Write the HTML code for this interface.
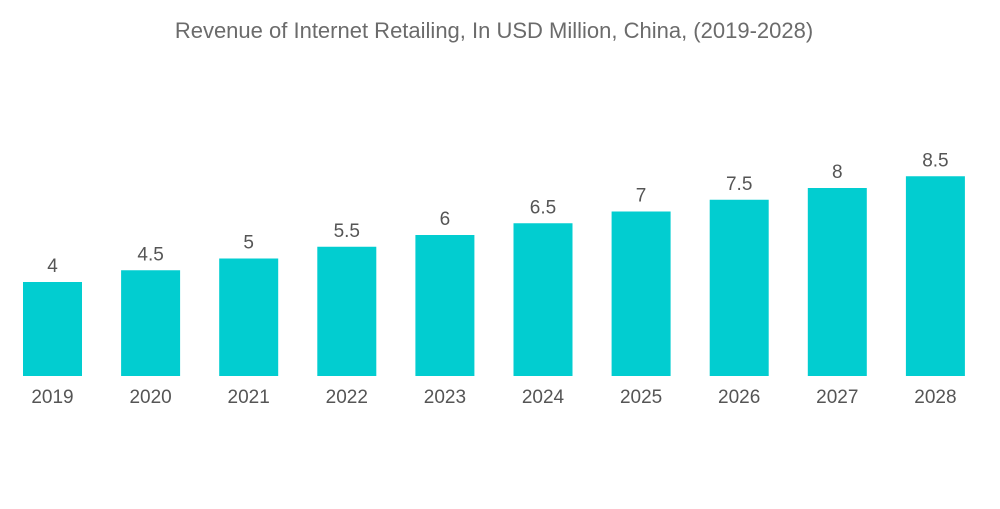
<!DOCTYPE html>
<html><head><meta charset="utf-8"><style>
body{margin:0;background:#fff;width:1000px;height:504px;overflow:hidden;font-family:"Liberation Sans",sans-serif}
</style></head><body>
<svg width="1000" height="504">
<text x="494" y="38" text-anchor="middle" font-size="22" fill="#6b6b6b">Revenue of Internet Retailing, In USD Million, China, (2019-2028)</text>
<g id="bars"></g>
</svg>
<script>
const categories=["2019","2020","2021","2022","2023","2024","2025","2026","2027","2028"];
const values=[4,4.5,5,5.5,6,6.5,7,7.5,8,8.5];
const labels=["4","4.5","5","5.5","6","6.5","7","7.5","8","8.5"];
const base=376, unit=23.5, x0=23, step=98.1, bw=59;
const y=v=>base-v*unit, x=i=>x0+i*step;
const g=document.getElementById('bars');const ns="http://www.w3.org/2000/svg";
categories.forEach((c,i)=>{
 const r=document.createElementNS(ns,'rect');
 
 
 r.setAttribute('x',x(i));r.setAttribute('y',y(values[i]));r.setAttribute('width',bw);r.setAttribute('height',base-y(values[i]));r.setAttribute('fill','#02cdd0');g.appendChild(r);
 const t=document.createElementNS(ns,'text');
 
 
 t.setAttribute('x',x(i)+bw/2);t.setAttribute('y',y(values[i])-10);t.setAttribute('text-anchor','middle');t.setAttribute('font-size','19');t.setAttribute('fill','#555');t.textContent=labels[i];g.appendChild(t);
 const a=document.createElementNS(ns,'text');
 
 
 a.setAttribute('x',x(i)+bw/2);a.setAttribute('y',403);a.setAttribute('text-anchor','middle');a.setAttribute('font-size','19');a.setAttribute('fill','#555');a.textContent=c;g.appendChild(a);
});
</script>
</body></html>
